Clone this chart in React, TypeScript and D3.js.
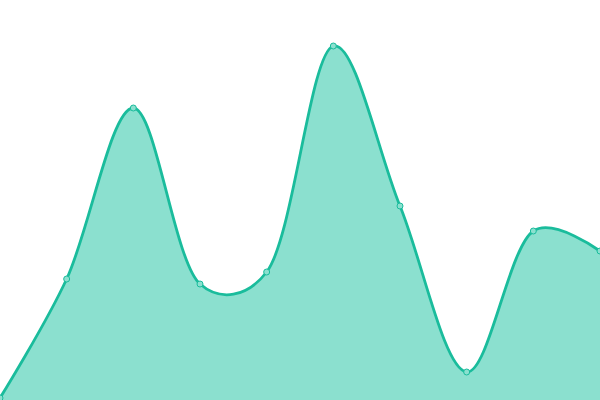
import React from "react";
import * as d3 from "d3";

const W = 600;
const H = 400;

const categories = ["A", "B", "C", "D", "E", "F", "G", "H", "I", "J"];
const values = [2, 121, 292, 116, 128, 354, 194, 28, 169, 149];

const LINE = "#1abc9c";
const FILL = "#8be0cf";

export default function App() {
  const x = d3.scalePoint<string>().domain(categories).range([0, W]);
  const y = d3.scaleLinear().domain([0, 400]).range([H, 0]);
  const pts = categories.map((c, i) => ({ c, v: values[i] }));
  const curve = d3.curveCatmullRom.alpha(0.25);
  const area = d3
    .area<{ c: string; v: number }>()
    .x((d) => x(d.c) as number)
    .y0(H)
    .y1((d) => y(d.v))
    .curve(curve);
  const line = d3
    .line<{ c: string; v: number }>()
    .x((d) => x(d.c) as number)
    .y((d) => y(d.v))
    .curve(curve);
  return (
    <svg
      width={W}
      height={H}
      style={{ position: "fixed", left: 0, top: 0, display: "block", background: "#fff" }}
    >
      <path d={area(pts) || ""} fill={FILL} stroke="none" />
      <path d={line(pts) || ""} fill="none" stroke={LINE} strokeWidth={2.8} />
      {pts.map((d) => (
        <circle
          key={d.c}
          cx={x(d.c) as number}
          cy={y(d.v)}
          r={3}
          fill={FILL}
          stroke={LINE}
          strokeWidth={1}
        />
      ))}
    </svg>
  );
}
